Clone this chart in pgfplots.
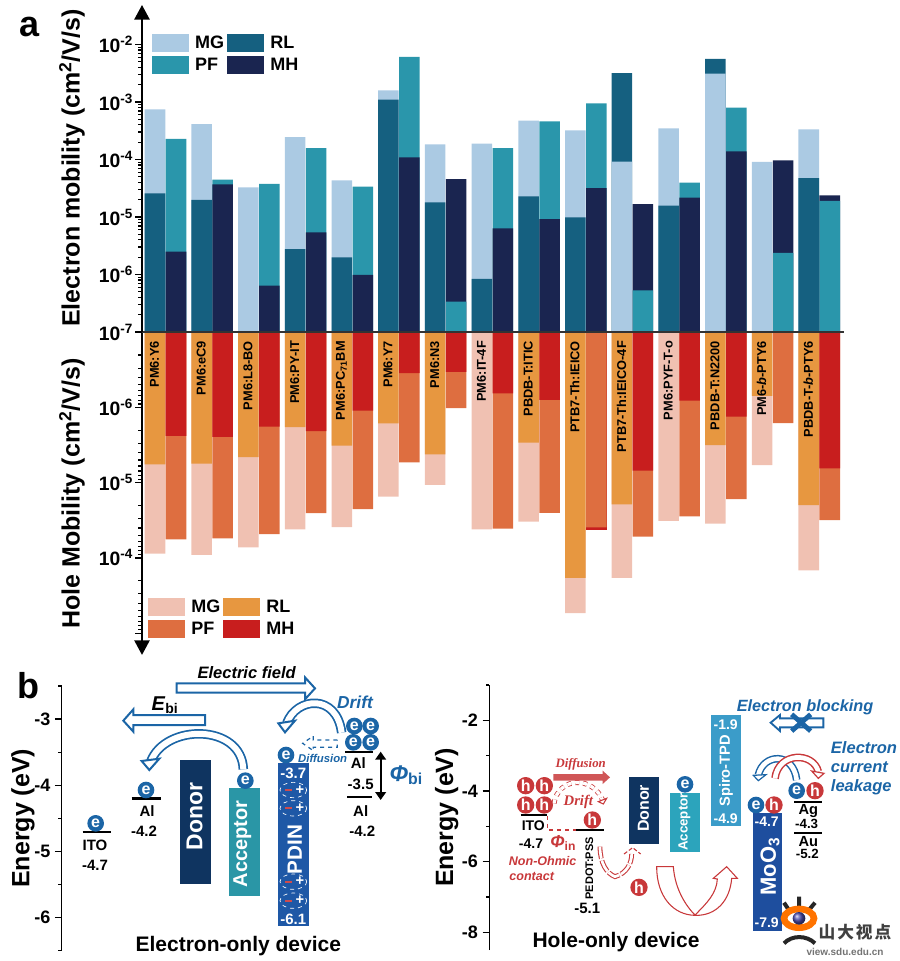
\documentclass[border=0pt]{standalone}
\usepackage{pgfplots}
\pgfplotsset{compat=1.18}
\usepackage{fontspec}
\setmainfont{Liberation Sans}
\newfontfamily\seriff{Liberation Serif}
\newfontfamily\cjk{Noto Sans CJK SC}
\usetikzlibrary{arrows.meta}
\newcommand\Fs[1]{\fontsize{#1}{#1}\selectfont\bfseries}
\definecolor{eMG}{HTML}{ABCAE3}\definecolor{eRL}{HTML}{156080}
\definecolor{ePF}{HTML}{2A96AB}\definecolor{eMH}{HTML}{1A2550}
\definecolor{hMG}{HTML}{F0C1B2}\definecolor{hRL}{HTML}{E79740}
\definecolor{hPF}{HTML}{DE6E40}\definecolor{hMH}{HTML}{C81E1E}
\definecolor{bdon}{HTML}{0F3460}\definecolor{bacc}{HTML}{2A96A6}
\definecolor{bpd}{HTML}{1E58A6}\definecolor{bacc2}{HTML}{2CA4BC}
\definecolor{bsp}{HTML}{3B9CC9}\definecolor{bmo}{HTML}{1E4E9E}
\definecolor{bl}{HTML}{1B65A6}\definecolor{rd}{HTML}{C8383A}
\newcommand\ec[2]{\node[circle,fill=bl,minimum size=12.5pt,inner sep=0pt,text=white,font=\Fs{12}] at (#1,#2) {e};}
\newcommand\hc[2]{\node[circle,fill=rd,minimum size=13pt,inner sep=0pt,text=white,font=\Fs{12}] at (#1,#2) {h};}
\newcommand\lab[2]{\node[rotate=90,anchor=east,inner sep=0pt,font=\Fs{9.6}] at (axis cs:#1-0.235,1.3e-7) {#2};}
\pgfplotsset{
 barL/.style={forget plot,ybar,bar width=15.4pt,bar shift=-7.875pt,draw=none,fill=#1},
 barR/.style={forget plot,ybar,bar width=15.4pt,bar shift=7.875pt,draw=none,fill=#1},
 enax/.style={scale only axis,axis y line=left,axis x line=none,
  y axis line style={line width=1.2pt,-},
  major tick length=5pt,minor tick length=2.5pt,tick align=outside,
  every tick/.style={black,line width=.9pt},
  ticklabel style={font=\Fs{13.5}},clip=false,
 },
 ebox/.style={fill=#1,draw=none,mark=none,forget plot},
 elev/.style={black,line width=1.6pt,mark=none,forget plot},
}
\begin{document}
\begin{tikzpicture}
\path (0pt,0pt) rectangle (675pt,-720.75pt);
% ---------- hole mobility
\begin{axis}[scale only axis,ymode=log,log origin y=infty,axis on top,
  xmin=-0.503,xmax=14.53,xtick=\empty,
  axis y line=left,axis x line=none,
  y axis line style={line width=1.3pt,-{Triangle[length=11pt,width=11.5pt]}},
  major tick length=5pt,minor tick length=2.8pt,
  every tick/.style={black,line width=.9pt},
  tick align=outside,
  ticklabel style={font=\Fs{14.5}},
  yticklabel style={inner sep=1.5pt},
  legend columns=2,legend cell align=left,
  legend style={draw=none,fill=none,font=\Fs{13.5},inner sep=0pt,
    row sep=1.7pt,/tikz/every even column/.append style={column sep=0.3pt},
    /tikz/every odd column/.append style={column sep=2.8pt}},
  legend image code/.code={\fill[#1] (-2pt,-6.6pt) rectangle (25.5pt,6.6pt);},
  y dir=reverse,anchor=north west,at={(106.5pt,-249.2pt)},
  width=526.5pt,height=242pt,ymin=1e-7,ymax=1.95e-3,
  ytickten={-7,-6,-5,-4,-3},
  yticklabels={{},{10\textsuperscript{-6}},{10\textsuperscript{-5}},{10\textsuperscript{-4}},{}},
  ylabel={Hole Mobility (cm\textsuperscript{2}/V/s)},
  every axis y label/.style={at={(axis description cs:-0.0997,0.5)},rotate=90,anchor=center,font=\Fs{18.75}},
  clip=false,
  legend style={at={(axis description cs:0.0085,0.18)},anchor=north west},
]
\addplot[barL=hMG] coordinates {(0,8.8e-5)(1,9.08e-5)(2,7.24e-5)(3,4.18e-5)(4,3.89e-5)(5,1.53e-5)(6,1.07e-5)(7,4.18e-5)(8,3.3e-5)(9,5.42e-4)(10,1.85e-4)(11,3.21e-5)(12,3.51e-5)(13,5.82e-6)(14,1.47e-4)};
\addplot[barL=hRL] coordinates {(0,5.7e-6)(1,5.58e-6)(2,4.56e-6)(3,1.82e-6)(4,3.22e-6)(5,1.63e-6)(6,4.2e-6)(8,2.94e-6)(9,1.84e-4)(10,1.94e-5)(12,3.16e-6)(13,7.03e-7)(14,1.98e-5)};
\addplot[barR=hMH] coordinates {(9,4.27e-5)};
\addplot[barR=hPF] coordinates {(0,5.68e-5)(1,5.5e-5)(2,4.82e-5)(3,2.54e-5)(4,2.24e-5)(5,5.36e-6)(6,1.02e-6)(7,4.09e-5)(8,2.51e-5)(9,3.93e-5)(10,5.22e-5)(11,2.81e-5)(12,1.65e-5)(13,1.61e-6)(14,3.14e-5)};
\addplot[barR=hMH] coordinates {(0,2.39e-6)(1,2.46e-6)(2,1.8e-6)(3,2.07e-6)(4,1.1e-6)(5,3.5e-7)(6,3.37e-7)(7,6.5e-7)(8,7.94e-7)(10,6.92e-6)(11,8.11e-7)(12,1.32e-6)(14,6.44e-6)};
\addlegendimage{fill=hMG,draw=none}\addlegendentry{MG}
\addlegendimage{fill=hRL,draw=none}\addlegendentry{RL}
\addlegendimage{fill=hPF,draw=none}\addlegendentry{PF}
\addlegendimage{fill=hMH,draw=none}\addlegendentry{MH}
\lab{0}{PM6:Y6}\lab{1}{PM6:eC9}\lab{2}{PM6:L8-BO}\lab{3}{PM6:PY-IT}\lab{4}{PM6:PC\textsubscript{71}BM}
\lab{5}{PM6:Y7}\lab{6}{PM6:N3}\lab{7}{PM6:IT-4F}\lab{8}{PBDB-T:ITIC}\lab{9}{PTB7-Th:IEICO}
\lab{10}{PTB7-Th:IEICO-4F}\lab{11}{PM6:PYF-T-o}\lab{12}{PBDB-T:N2200}\lab{13}{PM6-\textit{b}-PTY6}\lab{14}{PBDB-T-\textit{b}-PTY6}
\end{axis}
% ---------- electron mobility
\begin{axis}[scale only axis,ymode=log,log origin y=infty,axis on top,
  xmin=-0.503,xmax=14.53,xtick=\empty,
  axis y line=left,axis x line=bottom,
  x axis line style={-,draw=black!80,line width=1.1pt},
  y axis line style={line width=1.3pt,-{Triangle[length=11pt,width=11.5pt]}},
  major tick length=5pt,minor tick length=2.8pt,
  every tick/.style={black,line width=.9pt},
  tick align=outside,
  ticklabel style={font=\Fs{14.5}},
  yticklabel style={inner sep=1.5pt},
  legend columns=2,legend cell align=left,
  legend style={draw=none,fill=none,font=\Fs{13.5},inner sep=0pt,
    row sep=1.7pt,/tikz/every even column/.append style={column sep=0.3pt},
    /tikz/every odd column/.append style={column sep=2.8pt}},
  legend image code/.code={\fill[#1] (-2pt,-6.6pt) rectangle (25.5pt,6.6pt);},
  anchor=south west,at={(106.5pt,-249pt)},
  width=526.5pt,height=245.25pt,ymin=1e-7,ymax=0.0486,
  ytickten={-7,-6,-5,-4,-3,-2},
  yticklabels={{10\textsuperscript{-7}},{10\textsuperscript{-6}},{10\textsuperscript{-5}},{10\textsuperscript{-4}},{10\textsuperscript{-3}},{10\textsuperscript{-2}}},
  ylabel={Electron mobility (cm\textsuperscript{2}/V/s)},
  every axis y label/.style={at={(axis description cs:-0.0997,0.5015)},rotate=90,anchor=center,font=\Fs{18.75}},
  legend style={at={(axis description cs:0.014,0.915)},anchor=north west},
]
\addplot[barL=eRL] coordinates {(10,3.19e-3)(12,5.6e-3)};
\addplot[barL=eMG] coordinates {(0,7.45e-4)(1,4.14e-4)(2,3.28e-5)(3,2.46e-4)(4,4.35e-5)(5,1.6e-3)(6,1.84e-4)(7,1.88e-4)(8,4.73e-4)(9,3.21e-4)(10,9.2e-5)(11,3.48e-4)(12,3.11e-3)(13,9.06e-5)(14,3.35e-4)};
\addplot[barL=eRL] coordinates {(0,2.58e-5)(1,1.98e-5)(3,2.77e-6)(4,1.99e-6)(5,1.1e-3)(6,1.8e-5)(7,8.36e-7)(8,2.29e-5)(9,9.9e-6)(11,1.57e-5)(14,4.76e-5)};
\addplot[barR=eMH] coordinates {(6,4.58e-5)(10,1.68e-5)(13,9.7e-5)(14,2.38e-5)};
\addplot[barR=ePF] coordinates {(0,2.28e-4)(1,4.46e-5)(2,3.75e-5)(3,1.58e-4)(4,3.37e-5)(5,6.07e-3)(6,3.37e-7)(7,1.58e-4)(8,4.61e-4)(9,9.5e-4)(10,5.3e-7)(11,3.95e-5)(12,7.96e-4)(13,2.37e-6)(14,1.9e-5)};
\addplot[barR=eMH] coordinates {(0,2.5e-6)(1,3.7e-5)(2,6.4e-7)(3,5.4e-6)(4,9.9e-7)(5,1.09e-4)(7,6.35e-6)(8,9.2e-6)(9,3.19e-5)(11,2.17e-5)(12,1.39e-4)};
\addlegendimage{fill=eMG,draw=none}\addlegendentry{MG}
\addlegendimage{fill=eRL,draw=none}\addlegendentry{RL}
\addlegendimage{fill=ePF,draw=none}\addlegendentry{PF}
\addlegendimage{fill=eMH,draw=none}\addlegendentry{MH}
\end{axis}
\node[font=\Fs{27}] at (22.5pt,-20.5pt) {a};
\node[font=\Fs{27}] at (21.5pt,-514pt) {b};
% ---------- electron-only device: x in 1/3-pixel units
\begin{axis}[enax,anchor=south west,at={(46.25pt,-713pt)},width=276.25pt,height=198.5pt,
  xmin=185,xmax=1290,ymin=-6.5,ymax=-2.5,
  ytick={-6,-5,-4,-3},yticklabels={-6,-5,-4,-3},minor ytick={-6.5,-5.5,-4.5,-3.5,-2.5},
  ylabel={Energy (eV)},every axis y label/.style={at={(axis description cs:-0.105,0.5)},rotate=90,anchor=center,inner sep=0pt,font=\Fs{18.75}},
]
\addplot[ebox=bdon] coordinates {(541,-3.62)(632,-3.62)(632,-5.49)(541,-5.49)} --cycle;
\addplot[ebox=bacc] coordinates {(688,-4.04)(779,-4.04)(779,-5.68)(688,-5.68)} --cycle;
\addplot[ebox=bpd] coordinates {(833,-3.67)(928,-3.67)(928,-6.13)(833,-6.13)} --cycle;
\addplot[elev] coordinates {(248,-4.7)(333,-4.7)};
\addplot[elev] coordinates {(395,-4.2)(482,-4.2)};
\addplot[elev] coordinates {(1035,-3.5)(1120,-3.5)};
\addplot[elev] coordinates {(1042,-4.18)(1115,-4.18)};
\end{axis}
\begin{scope}[shift={(0pt,-495pt)},x=0.25pt,y=-0.25pt,every node/.style={inner sep=0pt},
  hollow/.style={draw=bl,line width=1.5pt,fill=white},
  curv/.style={draw=bl,line width=1.3pt,double=white,double distance=4.5pt}]
\draw[hollow] (530,70)--(915,70)--(915,52)--(945,85)--(915,118)--(915,98)--(530,98)--cycle;
\draw[hollow] (615,165)--(400,165)--(400,148)--(370,182)--(400,215)--(400,195)--(615,195)--cycle;
\draw[curv] (730,328) .. controls (725,190) and (495,190) .. (452,305);
\fill[white,draw=bl,line width=1.5pt] (425,303)--(478,296)--(448,330)--cycle;
\draw[curv] (1025,218) .. controls (1010,100) and (890,110) .. (860,190);
\fill[white,draw=bl,line width=1.5pt] (835,190)--(885,182)--(855,217)--cycle;
\draw[bl,line width=.9pt,dashed,fill=white] (1012,240)--(940,240)--(940,228)--(908,250)--(940,272)--(940,262)--(1012,262)--cycle;
\node[font=\Fs{12.4}\itshape] at (740,37) {Electric field};
\node[font=\Fs{15}] at (495,135) {\textit{E}\textsubscript{bi}};
\node[font=\Fs{13}\itshape,text=bl] at (1065,128) {Drift};
\node[font=\Fs{8.5}\itshape,text=bl] at (968,296) {Diffusion};
\draw[line width=1.4pt,{Triangle[length=6pt,width=8pt]}-{Triangle[length=6pt,width=8pt]}] (1142,275)--(1142,420);
\node[font=\Fs{17}\itshape,text=bl,anchor=west,inner sep=0pt] at (1168,345) {Φ\textsubscript{\upshape bi}};
\ec{287}{490}\ec{438}{390}\ec{736}{362}\ec{858}{285}
\ec{1063}{198}\ec{1112}{198}\ec{1060}{247}\ec{1112}{247}
\node[font=\Fs{11.25}] at (285,556) {ITO};
\node[font=\Fs{11.25}] at (285,617) {-4.7};
\node[font=\Fs{11.25}] at (441,452) {Al};
\node[font=\Fs{11.25}] at (432,515) {-4.2};
\node[font=\Fs{11.25}] at (1075,308) {Al};
\node[font=\Fs{11.25}] at (1082,372) {-3.5};
\node[font=\Fs{11.25}] at (1082,452) {Al};
\node[font=\Fs{11.25}] at (1087,513) {-4.2};
\node[font=\Fs{11.25},text=white] at (880,340) {-3.7};
\node[font=\Fs{11.25},text=white] at (880,778) {-6.1};
\node[rotate=90,font=\Fs{17.2},text=white] at (584,470) {Donor};
\node[rotate=90,font=\Fs{15},text=white] at (727,552) {Acceptor};
\foreach \y in {390,445,665,722}{
  \draw[white,dashed,line width=.5pt] (880,\y) ellipse (40 and 23);
  \fill[rd!90!white] (855,\y-3) rectangle (875,\y+3);
  \node[text=white,font=\Fs{11}] at (900,\y) {+};
}
\node[rotate=90,font=\Fs{15.5},text=white] at (884,568) {PDIN};
\node[font=\Fs{15.75}] at (715,857) {Electron-only device};
\end{scope}
% ---------- hole-only device
\begin{axis}[enax,anchor=south west,at={(367pt,-712.5pt)},width=308pt,height=198.75pt,
  xmin=178,xmax=1410,ymin=-8.5,ymax=-1,
  ytick={-8,-6,-4,-2},yticklabels={-8,-6,-4,-2},minor ytick={-7,-5,-3,-1},
  ylabel={Energy (eV)},every axis y label/.style={at={(axis description cs:-0.1039,0.5)},rotate=90,anchor=center,inner sep=0pt,font=\Fs{18.75}},
]
\addplot[ebox=bdon] coordinates {(597,-3.61)(688,-3.61)(688,-5.49)(597,-5.49)} --cycle;
\addplot[ebox=bacc2] coordinates {(721,-4.06)(809,-4.06)(809,-5.74)(721,-5.74)} --cycle;
\addplot[ebox=bsp] coordinates {(844,-1.86)(934,-1.86)(934,-4.98)(844,-4.98)} --cycle;
\addplot[ebox=bmo] coordinates {(968,-4.61)(1057,-4.61)(1057,-7.95)(968,-7.95)} --cycle;
\addplot[elev] coordinates {(272,-4.69)(352,-4.69)};
\addplot[elev] coordinates {(437,-5.1)(522,-5.1)};
\addplot[elev] coordinates {(1093,-4.31)(1176,-4.31)};
\addplot[elev] coordinates {(1093,-5.19)(1176,-5.19)};
\end{axis}
\begin{scope}[shift={(322.5pt,-502.5pt)},x=0.25pt,y=-0.25pt,every node/.style={inner sep=0pt},
  curvb/.style={draw=bl,line width=1.1pt,double=white,double distance=3.5pt},
  curvr/.style={draw=rd,line width=1.1pt,double=white,double distance=3.5pt}]
\draw[rd,dashed,line width=1pt] (352,437)--(352,480)--(437,480);
\fill[rd!85!white] (370,312)--(518,312)--(518,302)--(540,322)--(518,342)--(518,332)--(370,332)--cycle;
\draw[rd,dashed,line width=.6pt,double=white,double distance=2.5pt] (372,400) .. controls (385,320) and (490,315) .. (520,395);
\draw[rd,line width=.8pt,fill=white] (505,395)--(530,385)--(520,402)--cycle;
\node[font=\seriff\Fs{9.6}\itshape,text=rd] at (452,283) {Diffusion};
\node[font=\seriff\Fs{11}\itshape,text=rd] at (445,395) {Drift};
\hc{287}{347}\hc{343}{347}\hc{287}{405}\hc{343}{405}\hc{487}{450}\hc{627}{652}
\ec{765}{343}
\node[font=\Fs{10.5}] at (310,467) {ITO};
\node[font=\Fs{10.5}] at (303,522) {-4.7};
\node[font=\Fs{13}\itshape,text=rd] at (400,518) {Φ\textsubscript{\upshape in}};
\node[font=\Fs{9.4}\itshape,text=rd] at (338,573) {Non-Ohmic};
\node[font=\Fs{9.4}\itshape,text=rd] at (305,618) {contact};
\node[rotate=90,font=\Fs{8.25}] at (478,595) {PEDOT:PSS};
\node[font=\Fs{11.25}] at (472,715) {-5.1};
\node[rotate=90,font=\Fs{12},text=white] at (640,415) {Donor};
\node[rotate=90,font=\Fs{10},text=white] at (763,456) {Acceptor};
\node[rotate=90,font=\Fs{11},text=white] at (888,302) {Spiro-TPD};
\node[font=\Fs{10.5},text=white] at (887,163) {-1.9};
\node[font=\Fs{10.5},text=white] at (887,447) {-4.9};
\node[font=\Fs{10.5},text=white] at (1010,456) {-4.7};
\node[font=\Fs{10.5},text=white] at (1010,758) {-7.9};
\node[rotate=90,font=\Fs{16.5},text=white] at (1020,590) {MoO\textsubscript{3}};
\node[font=\Fs{11}] at (1135,422) {Ag};
\node[font=\Fs{10}] at (1130,462) {-4.3};
\node[font=\Fs{11}] at (1135,516) {Au};
\node[font=\Fs{10}] at (1132,553) {-5.2};
\node[font=\Fs{12.2}\itshape,text=bl] at (1125,113) {Electron blocking};
\draw[bl,line width=1.4pt,fill=white] (1180,145)--(1050,145)--(1050,135)--(1022,158)--(1050,183)--(1050,172)--(1180,172)--cycle;
\draw[bl,line width=3.6pt] (1085,133)--(1142,183) (1142,133)--(1085,183);
\node[font=\Fs{12.4}\itshape,text=bl,anchor=west,inner sep=0pt] at (1202,233) {Electron};
\node[font=\Fs{12.4}\itshape,text=bl,anchor=west,inner sep=0pt] at (1202,292) {current};
\node[font=\Fs{12.4}\itshape,text=bl,anchor=west,inner sep=0pt] at (1202,351) {leakage};
\draw[curvb] (1100,330) .. controls (1090,245) and (1000,250) .. (985,315);
\fill[white,draw=bl,line width=.9pt] (970,316)--(1008,314)--(985,332)--cycle;
\draw[curvr] (1035,325) .. controls (1045,245) and (1150,245) .. (1165,305);
\fill[white,draw=rd,line width=.9pt] (1145,303)--(1182,310)--(1165,325)--cycle;
\ec{978}{405}\hc{1032}{405}\ec{1100}{362}\hc{1155}{362}
\draw[rd,line width=.8pt,dash pattern=on 9pt off 1.5pt,double=white,double distance=2pt] (510,530) .. controls (510,580) and (530,610) .. (555,620) .. controls (590,610) and (605,580) .. (605,552);
\draw[rd,line width=.8pt,dash pattern=on 3pt off 1.5pt] (582,552)--(608,533)--(632,552);
\draw[rd,line width=.8pt,fill=white] (680,590)--(730,590) .. controls (735,660) and (770,710) .. (795,735) .. controls (830,700) and (860,670) .. (862,627) -- (850,625) -- (890,590) -- (922,625) -- (905,625) .. controls (900,690) and (860,738) .. (795,736) .. controls (730,735) and (680,680) .. (680,590) -- cycle;
\node[font=\Fs{15.75}] at (558,815) {Hole-only device};
% watermark
\draw[black!85,line width=3pt] (1107,680)--(1107,715) (1062,698)--(1078,722) (1155,698)--(1135,722);
\draw[black!85,line width=3pt] (1062,820) .. controls (1085,795) and (1130,795) .. (1155,820);
\draw[orange!90!red,line width=5pt,fill=white] (1107,745) ellipse (45 and 28);
\shade[ball color=blue!40!gray] (1107,745) circle (19);
\node[font=\cjk\fontsize{12.5}{12.5}\selectfont\bfseries,text=black!75,anchor=west,inner sep=0pt] at (1165,785) {山\hspace{1.5pt}大\hspace{1.5pt}视\hspace{1.5pt}点};
\node[font=\Fs{7.5},text=black!55,inner sep=0pt] at (1245,845) {view.sdu.edu.cn};
\end{scope}
\end{tikzpicture}
\end{document}
